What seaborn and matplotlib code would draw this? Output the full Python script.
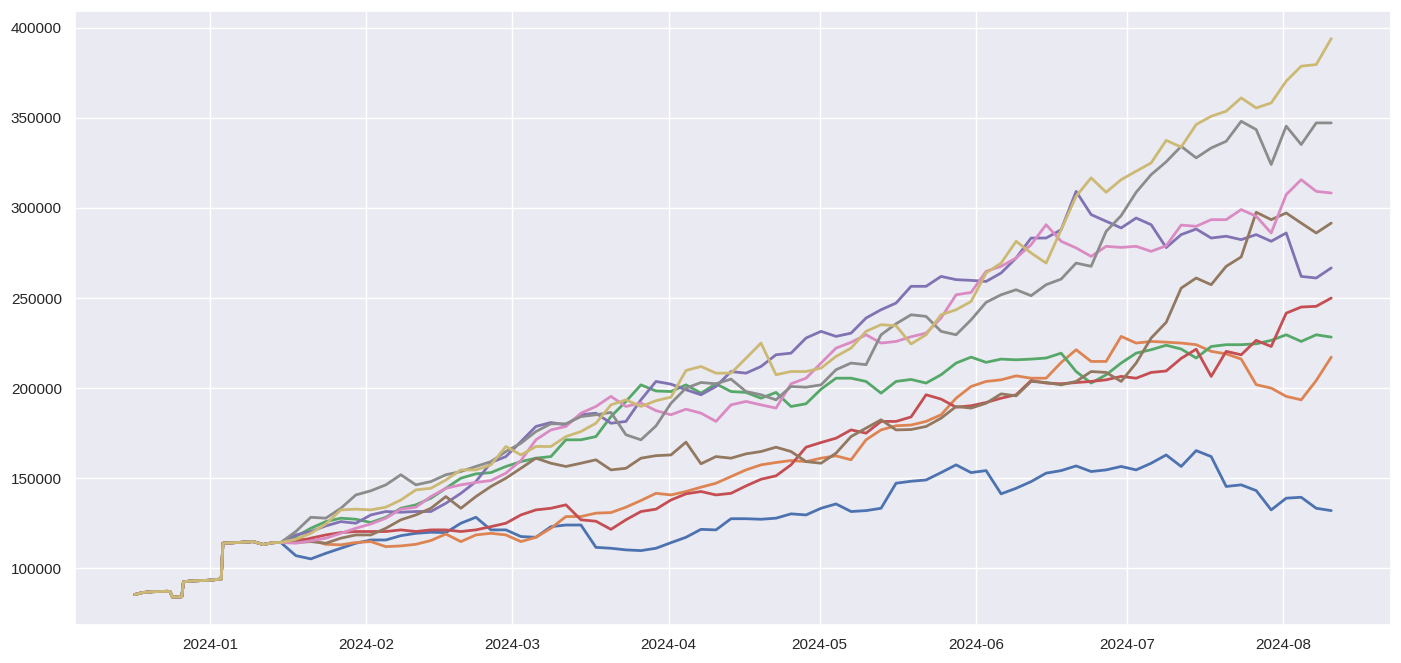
import numpy as np
import pandas as pd
import matplotlib
matplotlib.use("Agg")
import matplotlib.pyplot as plt
import seaborn as sns

sns.set_theme(style="darkgrid")
plt.rcParams["font.family"] = ["Liberation Sans", "DejaVu Sans"]

# shared history before the series diverge (values in thousands)
hist_dates = ["2023-12-17 00:00", "2023-12-18 12:00", "2023-12-20 12:00", "2023-12-23 12:00",
              "2023-12-24 00:00", "2023-12-24 12:00", "2023-12-26 08:00", "2023-12-26 16:00",
              "2023-12-28 12:00", "2023-12-31 12:00", "2024-01-03 04:00", "2024-01-03 12:00",
              "2024-01-06 12:00", "2024-01-09 12:00", "2024-01-11 12:00", "2024-01-13 12:00"]
hist_values = [85.4, 86.5, 87.0, 87.2, 87.0, 84.0, 84.2, 92.5,
               93.0, 93.3, 94.0, 113.9, 114.3, 114.8, 113.2, 114.2]

# common sample dates after the split
grid_start = "2024-01-15 00:00"
grid_end = "2024-08-10 14:00"
grid_count = 71

blue = [114.3, 107.0, 105.2, 108.3, 111.1, 113.9, 115.7, 115.7, 118.1, 119.4,
        120.0, 119.8, 125.0, 128.3, 121.3, 121.3, 117.6, 117.2, 123.1, 124.0,
        124.0, 111.6, 111.1, 110.2, 109.8, 111.1, 114.2, 117.2, 121.6, 121.3,
        127.5, 127.5, 127.2, 127.8, 130.2, 129.6, 133.3, 135.7, 131.5, 132.0,
        133.3, 147.2, 148.3, 149.0, 153.1, 157.4, 153.1, 154.2, 141.3, 144.4,
        148.1, 152.8, 154.2, 156.8, 153.7, 154.6, 156.5, 154.6, 158.3, 162.9,
        156.5, 165.3, 162.0, 145.4, 146.3, 143.1, 132.4, 138.9, 139.4, 133.3,
        132.0]
orange = [114.3, 116.7, 115.7, 113.3, 113.0, 114.3, 114.8, 112.0, 112.4, 113.3,
          115.4, 119.0, 114.8, 118.5, 119.4, 118.5, 114.8, 117.2, 122.2, 128.7,
          128.7, 130.6, 130.9, 133.9, 137.6, 141.6, 140.7, 142.6, 145.0, 147.2,
          150.9, 154.6, 157.4, 158.7, 159.8, 159.2, 161.1, 162.4, 160.2, 171.3,
          176.8, 179.1, 179.5, 181.5, 185.2, 194.4, 200.9, 203.7, 204.6, 206.8,
          205.5, 205.5, 214.2, 221.3, 214.8, 214.8, 228.7, 225.0, 225.9, 225.5,
          225.0, 224.1, 220.4, 219.0, 216.1, 201.9, 200.0, 195.4, 193.5, 204.2,
          217.2]
green = [114.3, 117.6, 122.2, 125.9, 127.8, 127.2, 125.4, 128.3, 133.3, 135.2,
         138.9, 144.4, 150.0, 152.4, 153.1, 156.5, 159.2, 161.1, 162.0, 171.3,
         171.3, 173.1, 184.2, 192.6, 201.8, 198.4, 198.1, 201.8, 197.2, 202.4,
         198.1, 197.6, 194.4, 197.6, 189.8, 191.3, 199.4, 205.5, 205.5, 203.7,
         197.2, 203.7, 204.8, 202.8, 207.4, 213.9, 217.2, 214.3, 216.1, 215.7,
         216.1, 216.7, 219.4, 209.2, 202.8, 207.4, 213.9, 219.4, 221.3, 223.8,
         221.7, 216.7, 223.1, 224.1, 224.1, 224.6, 226.5, 229.6, 225.9, 229.6,
         228.3]
red = [114.3, 114.8, 116.7, 118.5, 119.8, 120.4, 120.4, 120.4, 121.3, 120.4,
       121.3, 121.3, 120.4, 121.3, 123.1, 125.0, 129.6, 132.4, 133.3, 135.2,
       126.9, 126.1, 121.6, 126.9, 131.5, 132.8, 137.9, 141.3, 142.6, 140.7,
       141.6, 145.7, 149.4, 151.3, 157.4, 167.2, 169.8, 172.2, 176.8, 175.0,
       181.5, 181.5, 184.0, 196.3, 193.9, 189.4, 190.2, 192.0, 194.4, 196.3,
       204.2, 202.8, 202.4, 203.1, 203.7, 204.6, 206.5, 205.5, 208.7, 209.5,
       216.5, 221.6, 206.5, 220.4, 218.5, 226.5, 223.1, 241.6, 245.0, 245.4,
       250.0]
purple = [114.3, 118.5, 120.4, 123.5, 125.9, 125.0, 129.6, 131.5, 131.1, 131.5,
          131.5, 136.1, 141.6, 148.1, 158.7, 162.0, 170.3, 178.7, 180.9, 179.6,
          185.2, 186.1, 180.5, 181.5, 193.5, 203.7, 202.2, 199.1, 196.3, 200.9,
          209.2, 208.3, 212.0, 218.5, 219.4, 227.8, 231.5, 228.7, 230.5, 238.9,
          243.5, 247.2, 256.5, 256.5, 262.0, 260.2, 259.8, 259.2, 263.9, 272.2,
          283.3, 283.3, 287.9, 309.2, 296.3, 292.6, 288.9, 294.4, 290.7, 278.0,
          285.2, 288.3, 283.3, 284.3, 282.4, 285.2, 281.5, 286.1, 262.0, 261.1,
          266.7]
brown = [114.3, 114.3, 114.8, 113.9, 116.7, 118.5, 118.5, 122.2, 126.9, 129.6,
         133.3, 139.8, 133.3, 139.8, 145.4, 150.0, 155.5, 161.1, 158.3, 156.5,
         158.3, 160.2, 154.6, 155.5, 161.1, 162.5, 162.9, 170.0, 158.0, 162.0,
         161.1, 163.5, 164.8, 167.2, 164.8, 159.2, 158.3, 163.9, 173.1, 177.8,
         182.4, 176.8, 177.0, 178.7, 183.3, 189.8, 188.9, 191.6, 196.8, 195.7,
         203.7, 203.1, 201.8, 203.7, 209.2, 208.7, 203.7, 213.9, 227.8, 236.5,
         255.5, 261.1, 257.4, 267.6, 272.8, 297.6, 293.5, 297.2, 291.6, 286.1,
         291.6]
pink = [114.3, 113.9, 115.2, 116.7, 119.4, 122.2, 124.6, 127.8, 132.8, 133.9,
        139.8, 144.4, 146.3, 147.6, 148.7, 152.8, 159.8, 171.3, 176.8, 178.7,
        186.1, 189.8, 195.4, 189.8, 191.7, 187.5, 185.2, 188.3, 186.1, 181.5,
        190.7, 192.6, 190.7, 188.9, 202.4, 205.5, 213.9, 222.2, 225.4, 229.6,
        225.0, 225.9, 228.5, 230.5, 238.9, 251.8, 253.1, 264.8, 267.6, 272.2,
        279.6, 290.7, 281.5, 277.8, 273.1, 278.7, 278.1, 278.7, 275.9, 279.0,
        290.5, 289.8, 293.5, 293.5, 299.1, 295.4, 286.1, 307.4, 315.7, 309.2,
        308.3]
gray = [114.3, 120.4, 128.3, 127.8, 133.3, 140.7, 143.0, 146.3, 151.9, 146.3,
        148.1, 151.9, 153.7, 156.5, 159.2, 164.8, 169.4, 175.9, 180.2, 180.2,
        184.2, 185.2, 186.5, 174.1, 171.3, 179.0, 191.6, 200.0, 203.1, 202.4,
        205.0, 198.1, 196.3, 193.5, 200.9, 200.5, 201.8, 210.2, 213.9, 213.0,
        229.6, 235.7, 240.7, 239.8, 231.5, 229.6, 237.9, 247.6, 251.8, 254.6,
        251.3, 257.4, 260.5, 269.4, 267.6, 287.0, 295.7, 308.7, 318.5, 325.6,
        334.2, 327.8, 333.3, 337.0, 348.1, 343.5, 324.1, 345.4, 335.2, 347.2,
        347.2]
olive = [114.3, 116.1, 119.4, 124.6, 132.4, 132.8, 132.4, 133.9, 137.9, 143.5,
         144.4, 149.0, 154.6, 154.6, 157.4, 167.6, 162.9, 167.6, 167.6, 173.1,
         175.9, 180.5, 190.7, 193.5, 189.8, 193.0, 195.0, 209.8, 212.0, 208.3,
         208.3, 216.6, 225.0, 207.4, 209.2, 209.2, 211.1, 217.6, 222.2, 231.5,
         235.2, 234.6, 224.5, 229.6, 240.7, 243.5, 248.1, 263.9, 269.4, 281.5,
         275.0, 269.4, 287.9, 306.5, 316.7, 308.7, 315.7, 320.4, 325.0, 337.5,
         333.8, 346.3, 350.9, 353.7, 361.1, 355.5, 358.3, 370.4, 378.7, 379.6,
         394.0]

series_names = ["s0", "s1", "s2", "s3", "s4", "s5", "s6", "s7", "s8"]
series_values = [blue, orange, green, red, purple, brown, pink, gray, olive]

grid_dates = pd.date_range(grid_start, grid_end, periods=grid_count)
all_dates = pd.to_datetime(hist_dates).append(grid_dates)

frames = []
for name, vals in zip(series_names, series_values):
    frames.append(pd.DataFrame({
        "date": all_dates,
        "value": np.array(hist_values + vals) * 1000.0,
        "series": name,
    }))
df = pd.concat(frames, ignore_index=True)

fig, ax = plt.subplots(figsize=(14.01, 6.63), dpi=100)
sns.lineplot(data=df, x="date", y="value", hue="series",
             palette=sns.color_palette("deep", 9), legend=False,
             linewidth=2.0, estimator=None, ax=ax)
ax.set_xlabel("")
ax.set_ylabel("")
ax.set_yticks([100000, 150000, 200000, 250000, 300000, 350000, 400000])
fig.subplots_adjust(left=0.0535, right=0.9929, top=0.9839, bottom=0.0573)
fig.savefig("out.png", dpi=100)
